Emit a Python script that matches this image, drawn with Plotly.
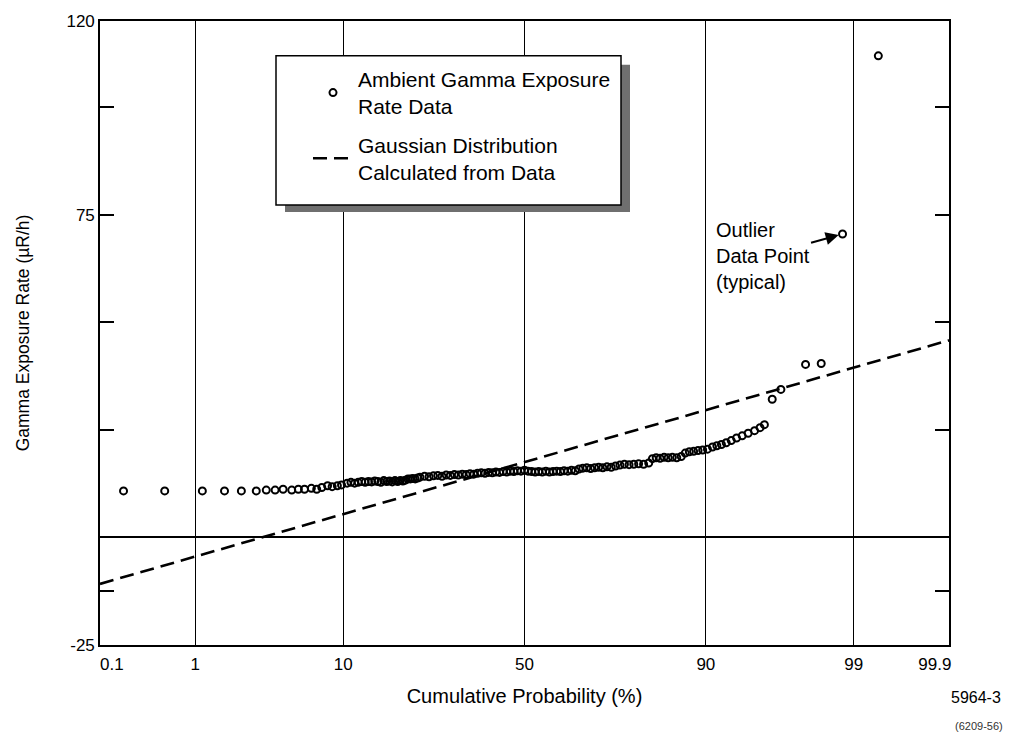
import plotly.graph_objects as go
from statistics import NormalDist

_nd = NormalDist()


def zscore(p_pct):
    return _nd.inv_cdf(p_pct / 100.0)


# ---------------- data ----------------
# probability-paper frame: the plotted frame edges carry the 0.1 / 99.9 labels
x_edge_z = [-3.0, 3.0]
x_inner_probs = [1, 10, 50, 90, 99]
x_inner_labels = ["1", "10", "50", "90", "99"]
x_edge_labels = ["\u00a0\u00a0\u00a0\u00a0\u00a00.1", "99.9\u00a0\u00a0\u00a0\u00a0\u00a0\u00a0"]

y_tick_vals = [-25, -12.5, 25, 50, 75, 100, 120]
y_tick_labels = ["-25", "", "", "", "75", "", "120"]

# cumulative probability (%) of each measurement
data_prob = [
    0.23, 0.55, 1.14, 1.70, 2.27, 2.9, 3.4, 3.9, 4.4, 5.0, 5.5, 6.0, 6.6, 7.1,
    7.6, 8.2, 8.7, 9.3, 9.8,
    10.5, 11.0, 11.5, 12.0, 12.5, 13.0, 13.5, 14.0, 14.5, 15.0, 15.5, 16.0,
    16.5, 17.0, 17.5, 18.0, 18.5, 19.0, 19.5, 20.0, 20.5, 21.0, 21.5, 22.0,
    22.5, 23.0, 24.0, 25.0, 26.0, 27.0, 28.0, 29.0, 30.0, 31.0, 32.0, 33.0,
    34.0, 35.0, 36.0, 37.0, 38.0, 39.0, 40.0, 41.0, 42.0, 43.0, 44.0, 45.0,
    46.0, 47.0, 48.0, 49.0, 50.0, 51.0, 52.0, 53.0, 54.0, 55.0, 56.0, 57.0,
    58.0, 59.0, 60.0, 61.0, 62.0, 63.0, 64.0, 65.0, 66.0, 67.0, 68.0, 69.0,
    70.0, 71.0, 72.0, 73.0, 74.0, 75.0, 76.0, 77.0, 78.0, 79.0, 80.0, 81.0,
    81.7, 82.4, 83.1, 83.8, 84.5, 85.2, 85.9, 86.6, 87.2, 87.8, 88.4, 89.0,
    89.6, 90.2, 90.8, 91.3, 91.8, 92.3, 92.8, 93.3, 93.8, 94.3, 94.8, 95.2,
    95.5, 96.0, 96.5, 97.65, 98.2, 98.77, 99.38,
]
# ambient gamma exposure rate (uR/h)
data_rate = [
    10.8, 10.8, 10.8, 10.8, 10.8, 10.8, 11.0, 11.0, 11.2, 11.0, 11.2, 11.2,
    11.4, 11.2, 11.6, 12.0, 11.8, 12.0, 12.2,
    12.6, 12.8, 12.6, 12.8, 13.0, 12.8, 13.0, 12.9, 13.1, 13.0, 12.8, 13.2,
    13.0, 13.1, 12.9, 13.2, 13.0, 13.2, 13.1, 13.3, 13.6, 13.6, 13.7, 13.6,
    13.8, 14.0, 14.2, 14.1, 14.3, 14.4, 14.2, 14.5, 14.4, 14.6, 14.5, 14.7,
    14.6, 14.8, 14.7, 14.9, 15.0, 14.9, 15.1, 15.0, 15.2, 15.1, 15.3, 15.2,
    15.4, 15.3, 15.5, 15.4, 15.6, 15.4, 15.3, 15.2, 15.3, 15.2, 15.4, 15.2,
    15.3, 15.4, 15.3, 15.5, 15.4, 15.6, 15.5, 15.9, 16.1, 16.2, 16.0, 16.2,
    16.3, 16.2, 16.4, 16.3, 16.6, 16.8, 17.0, 16.9, 17.0, 17.1, 17.0, 17.3,
    18.3, 18.5, 18.4, 18.6, 18.5, 18.6, 18.5, 18.8, 19.6, 19.9, 20.0, 20.2,
    20.3, 20.5, 21.0, 21.3, 21.6, 22.0, 22.5, 23.1, 23.6, 24.2, 24.8, 25.5,
    26.2, 32.1, 34.4, 40.2, 40.4, 70.5, 111.9,
]

# Gaussian distribution line
gauss_prob = [0.135, 50, 99.865]
gauss_rate = [-10.8, 17.5, 45.8]

# typical outlier pointed at by the note
outlier_prob = 98.77
outlier_rate = 70.5

# ---------------- figure ----------------
FONT = "Liberation Sans, Arial, Helvetica, sans-serif"
W, H = 1012, 739
ML, MR, MT, MB = 100, 63, 18, 94
PW, PH = W - ML - MR, H - MT - MB


def px_x(px):
    return (px - ML) / PW


def px_y(py):
    return (H - MB - py) / PH


fig = go.Figure()

fig.add_trace(go.Scatter(
    x=[zscore(p) for p in data_prob], y=data_rate,
    mode="markers", legendgroup="data",
    name="Ambient Gamma Exposure<br>Rate Data",
    marker=dict(symbol="circle-open", size=7, color="black",
                line=dict(width=2, color="black")),
    hoverinfo="skip",
))

fig.add_trace(go.Scatter(
    x=[zscore(p) for p in gauss_prob], y=gauss_rate,
    mode="lines", legendgroup="gauss",
    name="Gaussian Distribution<br>Calculated from Data",
    line=dict(color="black", width=2.6, dash="14px,7px"),
    hoverinfo="skip",
))

# legend box with shadow
fig.add_shape(type="rect", xref="paper", yref="paper",
              x0=px_x(285), x1=px_x(630), y0=px_y(210), y1=px_y(62),
              fillcolor="#6f6f6f", line=dict(width=0), layer="above")
fig.add_shape(type="rect", xref="paper", yref="paper",
              x0=px_x(276), x1=px_x(621), y0=px_y(203), y1=px_y(53),
              fillcolor="white", line=dict(color="black", width=1.5), layer="above")

fig.add_annotation(
    x=zscore(outlier_prob), y=outlier_rate,
    text="Outlier<br>Data Point<br>(typical)",
    align="left", showarrow=True, arrowhead=2, arrowsize=1.3, arrowwidth=2,
    arrowcolor="black", ax=-80, ay=22, standoff=4,
    font=dict(family=FONT, size=20, color="black"),
)

fig.add_annotation(xref="paper", yref="paper", x=px_x(1003), y=px_y(698),
                   xanchor="right", yanchor="middle", showarrow=False,
                   text="5964-3", font=dict(family=FONT, size=16, color="black"))
fig.add_annotation(xref="paper", yref="paper", x=px_x(1005), y=px_y(726),
                   xanchor="right", yanchor="middle", showarrow=False,
                   text="(6209-56)", font=dict(family=FONT, size=11, color="#333"))

fig.update_layout(
    width=W, height=H, autosize=False,
    margin=dict(l=ML, r=MR, t=MT, b=MB, pad=0),
    paper_bgcolor="white", plot_bgcolor="white",
    font=dict(family=FONT, size=17, color="black"),
    showlegend=True,
    legend=dict(x=px_x(308), y=px_y(56), xanchor="left", yanchor="top",
                bgcolor="rgba(0,0,0,0)", borderwidth=0,
                font=dict(family=FONT, size=21, color="black"),
                tracegroupgap=8, itemwidth=40),
    xaxis=dict(
        range=x_edge_z,
        tickmode="array",
        tickvals=[x_edge_z[0]] + [zscore(p) for p in x_inner_probs] + [x_edge_z[1]],
        ticktext=[x_edge_labels[0]] + x_inner_labels + [x_edge_labels[1]],
        showgrid=True, gridcolor="black", gridwidth=1.3,
        showline=True, linecolor="black", linewidth=1.6, mirror=True,
        ticks="", zeroline=False, ticklabelstandoff=3,
        tickfont=dict(family=FONT, size=17),
        title=dict(text="Cumulative Probability (%)",
                   font=dict(family=FONT, size=20), standoff=16),
    ),
    yaxis=dict(
        range=[-25, 120],
        tickmode="array",
        tickvals=y_tick_vals, ticktext=y_tick_labels,
        showgrid=False,
        showline=True, linecolor="black", linewidth=1.6, mirror="ticks",
        ticks="inside", ticklen=14, tickwidth=1.6, tickcolor="black",
        zeroline=True, zerolinecolor="black", zerolinewidth=1.6,
        tickfont=dict(family=FONT, size=17),
        title=dict(text="Gamma Exposure Rate (\u00b5R/h)",
                   font=dict(family=FONT, size=17.5), standoff=32),
    ),
)

fig.write_html("out.html")
